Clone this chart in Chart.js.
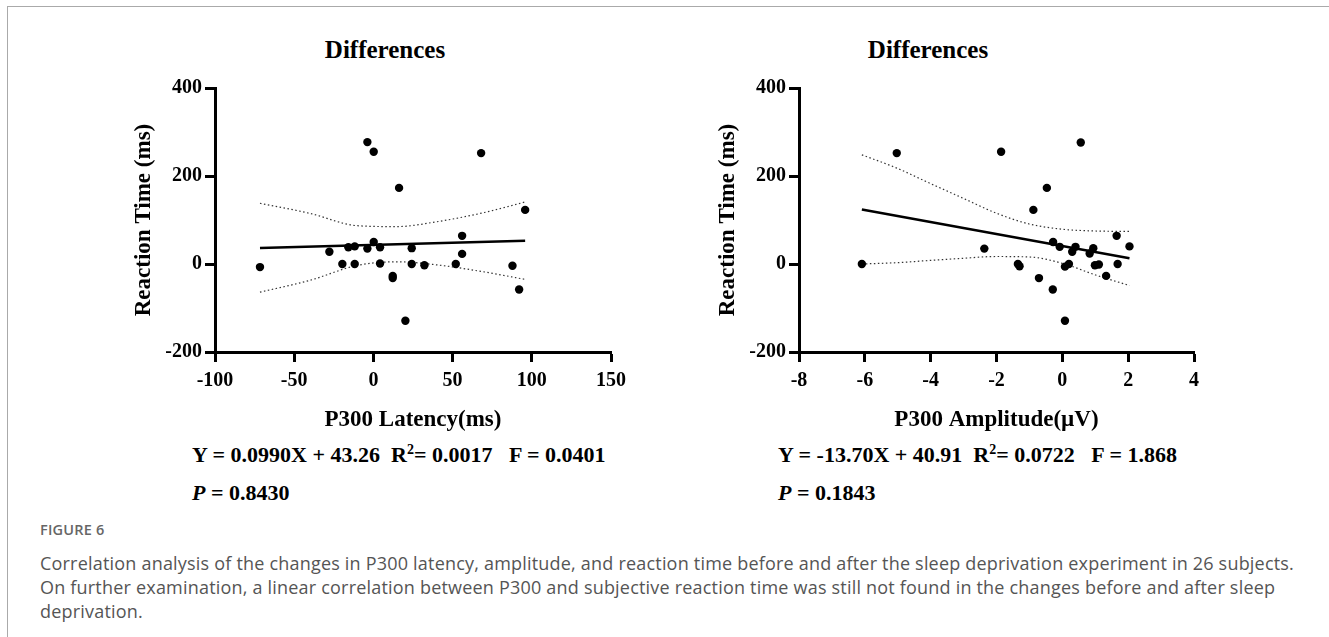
<!DOCTYPE html>
<html>
<head>
<meta charset="utf-8">
<script src="https://cdn.jsdelivr.net/npm/chart.js@4.4.1/dist/chart.umd.min.js"></script>
<style>
    html, body { margin: 0; padding: 0; background: #fff; }
    body { width: 1329px; height: 637px; position: relative; overflow: hidden; }
    .frame { position: absolute; left: 7px; top: 6px; width: 1400px; height: 700px; border-left: 1px solid #aaa; border-top: 1px solid #aaa; }
    .serif { font-family: 'Liberation Serif', 'Times New Roman', serif; font-weight: bold; color: #000; position: absolute; white-space: nowrap; }
    .panel-title { font-size: 25px; line-height: 30px; width: 240px; text-align: center; top: 35px; }
    .stats { font-size: 22px; line-height: 26px; }
    .stats sup { font-size: 14px; line-height: 0; vertical-align: 8px; }
    .chart-box { position: absolute; top: 20px; width: 560px; height: 420px; }
    .caption { position: absolute; left: 40px; font-family: 'Open Sans', 'Noto Sans', sans-serif; color: #555; white-space: nowrap; }
    .fig-label { top: 520px; font-size: 14.5px; font-weight: 600; color: #666; letter-spacing: 0.2px; }
    .fig-text { top: 551px; font-size: 18px; line-height: 24px; letter-spacing: 0.2px; }
</style>
</head>
<body>
<div class="frame"></div>

<div class="serif panel-title" style="left:265px;">Differences</div>
<div class="serif panel-title" style="left:808px;">Differences</div>

<div class="chart-box" style="left:100px;"><canvas id="latencyChart"></canvas></div>
<div class="chart-box" style="left:684px;"><canvas id="amplitudeChart"></canvas></div>

<div class="serif stats" style="left:192px; top:442px;">Y = 0.0990X + 43.26&nbsp;&nbsp;R<sup>2</sup>= 0.0017&nbsp;&nbsp;&nbsp;F = 0.0401</div>
<div class="serif stats" style="left:192px; top:480px;"><i>P</i> = 0.8430</div>
<div class="serif stats" style="left:778px; top:442px;">Y = -13.70X + 40.91&nbsp;&nbsp;R<sup>2</sup>= 0.0722&nbsp;&nbsp;&nbsp;F = 1.868</div>
<div class="serif stats" style="left:778px; top:480px;"><i>P</i> = 0.1843</div>

<div class="caption fig-label">FIGURE 6</div>
<div class="caption fig-text">Correlation analysis of the changes in P300 latency, amplitude, and reaction time before and after the sleep deprivation experiment in 26 subjects.<br>On further examination, a linear correlation between P300 and subjective reaction time was still not found in the changes before and after sleep<br>deprivation.</div>

<script>
// --- DATA ---
// change in P300 latency (ms) vs change in reaction time (ms)
const latencyX = [-71.6, -3.8, 0.2, 68, 16.2, 95.8, -27.8, -15.8, -11.8, -3.8, 0.2, 4.2, 24.2, 56, 56, -19.6, -11.8, 4.2, 12.2, 12.2, 24.2, 32.2, 52, 87.8, 92, 20.2];
const latencyRT = [-7, 277, 255, 252, 173, 123, 28, 38, 40, 35, 50, 38, 36, 64, 23, 0, 0, 1, -27, -32, 0, -3, 0, -4, -58, -129];
const latencyFitX = [-71.6, 95.8];
const latencyFitY = [36.2, 52.7];
const latencyBandX = [-71.6, -40, -10, 15, 40, 70, 95.8];
const latencyUpper = [138, 115, 87, 85, 96, 117, 141];
const latencyLower = [-64, -37, -3, 5, -2, -18, -35];

// change in P300 amplitude (µV) vs change in reaction time (ms)
const amplitudeX = [-6.09, -5.03, -1.86, 0.56, -0.47, -0.88, -2.37, -0.28, -0.08, 0.40, 0.30, 0.94, 0.83, 1.65, 2.04, -1.35, -1.30, -0.71, -0.29, 0.08, 0.2, 0.99, 1.11, 1.33, 1.68, 0.08];
const amplitudeRT = [0, 252, 255, 276, 173, 123, 35, 50, 39, 39, 28, 36, 24, 64, 40, 0, -5, -32, -58, -6, 0, -3, -1, -27, 0, -129];
const amplitudeFitX = [-6.09, 2.04];
const amplitudeFitY = [124, 13];
const amplitudeBandX = [-6.09, -5.03, -4.04, -3.03, -2.02, -1.01, 0, 1.01, 2.04];
const amplitudeUpper = [248, 218, 184, 150, 116, 91, 79, 75, 74];
const amplitudeLower = [0, 3, 8, 13, 17, 16, 1.5, -25, -49];

const yTicks = { min: -200, max: 400, step: 200 };

// --- HELPERS ---
const serifFont = "'Liberation Serif', 'Times New Roman', serif";
const toPoints = (xs, ys) => xs.map((x, i) => ({ x: x, y: ys[i] }));

function bandDataset(xs, ys) {
    return {
        data: toPoints(xs, ys),
        showLine: true,
        borderColor: '#333',
        borderWidth: 1.2,
        borderDash: [1.5, 2.5],
        pointRadius: 0,
        cubicInterpolationMode: 'monotone',
        order: 3
    };
}

function makeChart(canvasId, cfg) {
    const ctx = document.getElementById(canvasId).getContext('2d');
    return new Chart(ctx, {
        type: 'scatter',
        data: {
            datasets: [
                {
                    data: toPoints(cfg.x, cfg.y),
                    backgroundColor: '#000',
                    borderColor: '#000',
                    pointRadius: 4.2,
                    pointBorderWidth: 0,
                    order: 1
                },
                {
                    data: toPoints(cfg.fitX, cfg.fitY),
                    showLine: true,
                    borderColor: '#000',
                    borderWidth: 2.5,
                    pointRadius: 0,
                    order: 2
                },
                bandDataset(cfg.bandX, cfg.upper),
                bandDataset(cfg.bandX, cfg.lower)
            ]
        },
        options: {
            responsive: true,
            maintainAspectRatio: false,
            animation: false,
            layout: { padding: { top: 68, right: cfg.padRight, bottom: 0, left: 0 } },
            plugins: {
                legend: { display: false },
                tooltip: { enabled: false }
            },
            scales: {
                x: {
                    type: 'linear',
                    min: cfg.xMin,
                    max: cfg.xMax,
                    afterFit: (scale) => { scale.height = 88; },
                    ticks: {
                        stepSize: cfg.xStep,
                        color: '#000',
                        padding: 7,
                        font: { family: serifFont, size: 20, weight: 'bold' },
                        callback: (v) => String(v)
                    },
                    grid: { drawOnChartArea: false, drawTicks: true, tickLength: 10, tickWidth: 3, color: '#000' },
                    border: { display: true, width: 3, color: '#000' },
                    title: {
                        display: true,
                        text: cfg.xTitle,
                        color: '#000',
                        font: { family: serifFont, size: 23, weight: 'bold' },
                        padding: { top: 0, bottom: 6 }
                    }
                },
                y: {
                    type: 'linear',
                    min: yTicks.min,
                    max: yTicks.max,
                    afterFit: (scale) => { scale.width = 115; },
                    ticks: {
                        stepSize: yTicks.step,
                        color: '#000',
                        padding: 3,
                        font: { family: serifFont, size: 20, weight: 'bold' },
                        callback: (v) => String(v)
                    },
                    grid: { drawOnChartArea: false, drawTicks: true, tickLength: 10, tickWidth: 3, color: '#000' },
                    border: { display: true, width: 3, color: '#000' },
                    title: {
                        display: true,
                        text: 'Reaction Time (ms)',
                        color: '#000',
                        font: { family: serifFont, size: 23, weight: 'bold' },
                        padding: { top: 30, bottom: 0 }
                    }
                }
            }
        }
    });
}

// --- INITIALIZATION ---
makeChart('latencyChart', {
    x: latencyX, y: latencyRT,
    fitX: latencyFitX, fitY: latencyFitY,
    bandX: latencyBandX, upper: latencyUpper, lower: latencyLower,
    xMin: -100, xMax: 150, xStep: 50,
    xTitle: 'P300 Latency(ms)',
    padRight: 49
});

makeChart('amplitudeChart', {
    x: amplitudeX, y: amplitudeRT,
    fitX: amplitudeFitX, fitY: amplitudeFitY,
    bandX: amplitudeBandX, upper: amplitudeUpper, lower: amplitudeLower,
    xMin: -8, xMax: 4, xStep: 2,
    xTitle: 'P300 Amplitude(µV)',
    padRight: 50
});
</script>
</body>
</html>
